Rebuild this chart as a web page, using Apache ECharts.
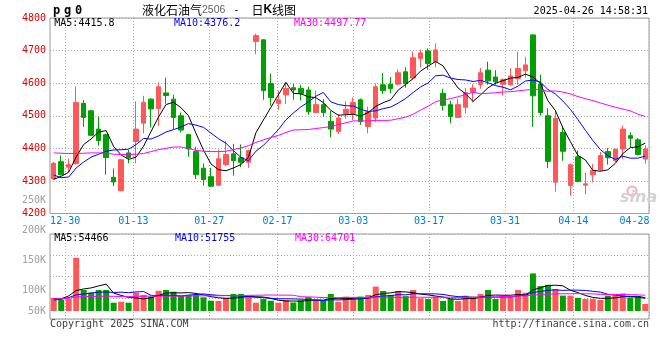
<!DOCTYPE html>
<html><head><meta charset="utf-8">
<script src="https://cdn.jsdelivr.net/npm/echarts@6/dist/echarts.min.js"></script>
<style>html,body{margin:0;padding:0;background:#fff}#c{width:660px;height:360px}</style>
</head><body><div id="c"></div>
<script>
const dates = ['2024-12-26','2024-12-27','2024-12-30','2024-12-31','2025-01-02','2025-01-03','2025-01-06','2025-01-07','2025-01-08','2025-01-09',
'2025-01-10','2025-01-13','2025-01-14','2025-01-15','2025-01-16','2025-01-17','2025-01-20','2025-01-21','2025-01-22','2025-01-23',
'2025-01-24','2025-01-27','2025-02-05','2025-02-06','2025-02-07','2025-02-10','2025-02-11','2025-02-12','2025-02-13','2025-02-14',
'2025-02-17','2025-02-18','2025-02-19','2025-02-20','2025-02-21','2025-02-24','2025-02-25','2025-02-26','2025-02-27','2025-02-28',
'2025-03-03','2025-03-04','2025-03-05','2025-03-06','2025-03-07','2025-03-10','2025-03-11','2025-03-12','2025-03-13','2025-03-14',
'2025-03-17','2025-03-18','2025-03-19','2025-03-20','2025-03-21','2025-03-24','2025-03-25','2025-03-26','2025-03-27','2025-03-28',
'2025-03-31','2025-04-01','2025-04-02','2025-04-03','2025-04-07','2025-04-08','2025-04-09','2025-04-10','2025-04-11','2025-04-14',
'2025-04-15','2025-04-16','2025-04-17','2025-04-18','2025-04-21','2025-04-22','2025-04-23','2025-04-24','2025-04-25','2025-04-28'];

const opens = [4306,4359,4342,4353,4538,4515,4459,4442,4311,4270,
4386,4421,4477,4551,4522,4570,4551,4500,4442,4390,
4339,4313,4287,4350,4383,4371,4357,4728,4733,4599,
4538,4564,4586,4584,4579,4510,4534,4483,4452,4507,
4507,4549,4467,4493,4595,4597,4597,4635,4616,4676,
4699,4666,4569,4534,4495,4526,4573,4596,4640,4619,
4597,4595,4614,4638,4748,4597,4500,4296,4449,4286,
4374,4287,4319,4334,4390,4362,4398,4439,4426,4367];
const closes = [4354,4319,4350,4541,4495,4440,4424,4372,4297,4365,
4372,4459,4541,4521,4589,4562,4495,4456,4398,4319,
4304,4284,4368,4381,4362,4357,4393,4746,4577,4556,
4549,4584,4579,4568,4512,4534,4510,4459,4493,4520,
4541,4482,4512,4589,4577,4584,4632,4599,4678,4693,
4660,4702,4532,4498,4534,4571,4585,4632,4607,4604,
4611,4622,4645,4656,4561,4510,4360,4492,4391,4350,
4298,4291,4332,4378,4371,4397,4459,4431,4381,4398];
const lows = [4304,4317,4327,4350,4466,4438,4408,4319,4284,4268,
4354,4354,4446,4464,4469,4537,4459,4449,4374,4306,
4286,4282,4285,4345,4316,4342,4340,4689,4549,4531,
4518,4536,4549,4547,4503,4508,4497,4434,4444,4491,
4487,4472,4446,4481,4567,4569,4593,4586,4612,4648,
4641,4649,4516,4477,4493,4507,4541,4583,4595,4595,
4562,4593,4595,4617,4466,4500,4339,4267,4362,4255,
4296,4260,4296,4330,4350,4358,4367,4403,4378,4353];
const highs = [4358,4378,4369,4590,4548,4518,4497,4445,4338,4368,
4395,4544,4561,4554,4602,4617,4564,4510,4445,4405,
4354,4340,4396,4423,4414,4412,4395,4752,4735,4630,
4577,4599,4598,4595,4589,4577,4551,4515,4505,4544,
4556,4553,4528,4599,4631,4619,4642,4649,4697,4703,
4707,4722,4583,4546,4552,4585,4597,4646,4666,4640,
4615,4646,4697,4681,4750,4626,4523,4515,4469,4353,
4393,4326,4352,4389,4401,4399,4469,4449,4432,4409];

const ma5 = [4305,4314,4327,4374,4411.8,4429,4450,4454.4,4405.6,4379.6,
4366,4373,4406.8,4451.6,4496.4,4534.4,4541.6,4524.6,4500,4446,
4394.4,4352.2,4334.6,4331.2,4339.8,4350.4,4372.2,4447.8,4487,4525.8,
4564.2,4602.4,4569,4567.2,4558.4,4555.4,4540.6,4516.6,4501.6,4503.2,
4504.6,4499,4509.6,4528.8,4540.2,4548.8,4578.8,4596.2,4614,4637.2,
4652.4,4666.4,4653,4617,4585.2,4567.4,4544,4564,4585.8,4599.8,
4607.8,4615.2,4617.8,4627.6,4619,4598.8,4546.4,4515.8,4462.8,4420.6,
4378.2,4364.4,4332.4,4329.8,4334,4353.8,4383.8,4402.2,4404.6,4415.8];
const ma10 = [4318,4310,4312,4340,4358,4373,4382,4391,4395,4395.7,
4397.5,4411.5,4430.6,4428.6,4438,4450.2,4457.3,4465.7,4475.8,4471.2,
4464.4,4446.9,4429.6,4415.6,4392.9,4372.4,4362.2,4391.2,4409.1,4432.8,
4457.3,4487.3,4508.4,4527.1,4542.1,4559.8,4571.5,4542.8,4534.4,4530.8,
4530,4519.8,4513.1,4515.2,4521.7,4526.7,4538.9,4552.9,4571.4,4588.7,
4600.6,4622.6,4624.6,4615.5,4611.2,4609.9,4605.2,4608.5,4601.4,4592.5,
4587.6,4579.6,4590.9,4606.7,4609.4,4603.3,4580.8,4566.8,4545.2,4519.8,
4488.5,4455.4,4424.1,4396.3,4377.3,4366,4375.9,4369.8,4369.8,4376.2];
const ma30 = [4386,4385,4384,4384,4385,4386,4386,4385,4382,4381,
4381,4382,4384,4390,4396,4400,4404,4404,4400,4394,
4391,4390,4390,4391,4396,4401,4408,4418,4426,4433.2,
4439.7,4448.6,4456.2,4457.1,4457.7,4460.8,4463.7,4466.6,4473.1,4478.3,
4483.9,4484.7,4483.7,4486,4485.6,4486.3,4490.9,4495.6,4505,4517.4,
4529.3,4543.2,4548.7,4552.6,4558.3,4565.5,4571.9,4568.1,4569.1,4570.7,
4572.7,4574,4576.2,4579.1,4580.8,4580,4575,4576.1,4572.7,4567,
4558.9,4552.5,4546.5,4539.5,4532.6,4526.4,4520.6,4515,4505.1,4497.77];

const volumes = [54000,45000,49000,218000,86000,75000,86000,86000,34000,38000,
34000,75000,66000,59000,83000,86000,79000,63000,66000,66000,
56000,42000,41000,54000,70000,70000,63000,34000,49000,42000,
34000,45000,35000,44000,57000,45000,41000,70000,38000,59000,
49000,59000,66000,100000,82000,66000,82000,61000,86000,52000,
49000,59000,41000,49000,41000,63000,59000,70000,86000,49000,
59000,59000,86000,75000,154000,102000,107000,90000,63000,63000,
54000,49000,49000,45000,63000,63000,72000,54000,59000,29000];
const volMa5 = [50000,50000,62000,84000,90400,94600,102800,110200,73400,63800,
55600,53400,49400,54400,63400,73800,74600,74000,75400,72000,
66000,58600,54200,51800,52600,55400,59600,58200,57200,51600,
44400,40800,41000,40000,43000,45200,44400,51400,50200,50600,
51400,55000,54200,66600,71200,74600,79200,78200,75400,69400,
66000,61400,57400,50000,47800,50600,50600,56400,63800,65400,
64600,64600,67800,65600,86600,95200,104800,105600,103200,85000,
75400,63800,55600,52000,52000,53800,58400,59400,60200,54466];
const volMa10 = [45000,48000,55000,66000,70000,74000,77000,78000,76000,77100,
75100,78100,79800,63900,63600,64700,64000,61700,64900,67700,
69900,66600,64100,63600,62300,60700,59100,56200,54500,52100,
49900,50200,49600,48600,47300,44800,42600,46200,45100,46800,
48300,49700,52800,58400,60900,63000,67100,66200,71000,70300,
70300,70300,67800,62700,58600,58300,56000,56900,56900,56600,
57600,57600,62100,64700,76000,79900,84700,86700,84400,85800,
85300,84300,80600,77600,68500,64600,61100,57500,57100,51755];
const volMa30 = [50000,50500,51500,58000,59000,59500,60000,60500,60000,59500,
59500,60000,60500,61000,61000,60500,60500,61000,61500,62000,
62000,62500,62500,63000,63000,63500,64000,64500,65000,65600,
65000,65000,64500,58700,57700,56700,55200,54700,54800,55500,
56000,55500,55500,56900,56800,56200,56300,56200,56900,56400,
56200,56700,56700,56600,55600,55400,55200,56400,57700,57900,
58700,59200,60900,61900,65200,67100,69300,69900,70800,70900,
71100,70700,70200,68300,67700,67600,67300,67000,66100,64701];

const xTickDates = ['2024-12-30','2025-01-13','2025-01-27','2025-02-17','2025-03-03','2025-03-17','2025-03-31','2025-04-14','2025-04-28'];
const priceMin = 4200, priceMax = 4800, priceStep = 100;
const volLabelMin = 50000, volLabelMax = 250000, volLabelStep = 50000;
const priceMaLabels = ['MA5:4415.8', 'MA10:4376.2', 'MA30:4497.77'];
const volMaLabels = ['MA5:54466', 'MA10:51755', 'MA30:64701'];
const titleParts = ['液化石油气', '2506', ' - ', '日', 'K', '线图'];
const codeText = ['p', 'g', '0'];
const timeText = '2025-04-26 14:58:31';
const footLeft = 'Copyright 2025 SINA.COM';
const footRight = 'http://finance.sina.com.cn';

const UP = '#ff5858', DOWN = '#00a000';
const MONO = 'DejaVu Sans Mono';
const GRIDC = '#999', DOTC = '#aaa';
const tickSet = new Set(xTickDates);
const isTick = (i, v) => tickSet.has(v);
const maColors = ['#000000', '#0000ff', '#ff00ff'];

const candles = dates.map((d, i) => [opens[i], closes[i], lows[i], highs[i]]);
const volData = volumes.map((v, i) => ({ value: v, itemStyle: { color: closes[i] >= opens[i] ? UP : DOWN } }));

const chart = echarts.init(document.getElementById('c'), null, { renderer: 'canvas' });

const dotted = { color: DOTC, type: [1, 2], width: 1 };

const option = {
  animation: false,
  backgroundColor: '#ffffff',
  grid: [
    { left: 50, top: 18, width: 599, height: 195.5, show: true, borderColor: GRIDC, borderWidth: 1, outerBoundsMode: 'none', containLabel: false },
    { left: 50, top: 234, width: 599, height: 85, show: true, borderColor: GRIDC, borderWidth: 1, outerBoundsMode: 'none', containLabel: false },
    { left: 50, top: 200.8, width: 599, height: 119.2, show: false, outerBoundsMode: 'none', containLabel: false }
  ],
  xAxis: [
    { type: 'category', gridIndex: 0, data: dates, boundaryGap: true, position: 'top', show: false },
    { type: 'category', gridIndex: 0, data: dates, boundaryGap: false, position: 'bottom',
      axisLine: { show: false }, axisTick: { show: false },
      axisLabel: {
        interval: isTick, color: '#0080d0', fontFamily: MONO, fontSize: 10, margin: 3,
        formatter: (v, idx) => idx === dates.length - 1 ? '{e|' + v.slice(5) + '}' : v.slice(5),
        rich: { e: { color: '#0080d0', fontFamily: MONO, fontSize: 10, padding: [0, 29, 0, 0] } }
      },
      splitLine: { show: true, interval: isTick, lineStyle: dotted } },
    { type: 'category', gridIndex: 1, data: dates, boundaryGap: true, position: 'top', show: false },
    { type: 'category', gridIndex: 1, data: dates, boundaryGap: false, position: 'bottom',
      axisLine: { show: false }, axisTick: { show: false }, axisLabel: { show: false },
      splitLine: { show: true, interval: isTick, lineStyle: dotted } },
    { type: 'value', gridIndex: 2, show: false }
  ],
  yAxis: [
    { type: 'value', gridIndex: 0, min: priceMin, max: priceMax, interval: priceStep, position: 'left',
      axisLine: { show: false }, axisTick: { show: false },
      axisLabel: { color: '#e00000', fontFamily: MONO, fontSize: 10, margin: 4, padding: [0, 0, 4, 0], formatter: v => String(v) },
      splitLine: { show: true, lineStyle: dotted } },
    { type: 'value', gridIndex: 1, min: -32800, max: 315600, show: false },
    { type: 'value', gridIndex: 1, min: 0, max: 4, interval: 1, position: 'right',
      axisLine: { show: false }, axisTick: { show: false }, axisLabel: { show: false },
      splitLine: { show: true, lineStyle: dotted } },
    { type: 'value', gridIndex: 2, min: volLabelMin, max: volLabelMax, interval: volLabelStep, position: 'left',
      axisLine: { show: false }, axisTick: { show: false }, splitLine: { show: false },
      axisLabel: {
        color: '#a0a0a0', fontFamily: MONO, fontSize: 10, margin: 4,
        formatter: v => v === volLabelMin ? '{lift|' + (v / 1000) + 'K}' : (v / 1000) + 'K',
        rich: { lift: { color: '#a0a0a0', fontFamily: MONO, fontSize: 10, padding: [0, 0, 17, 0] } }
      } }
  ],
  series: [
    { type: 'candlestick', xAxisIndex: 0, yAxisIndex: 0, data: candles, barWidth: 5,
      itemStyle: { color: UP, color0: DOWN, borderColor: UP, borderColor0: DOWN, borderWidth: 1 } },
    { type: 'line', xAxisIndex: 0, yAxisIndex: 0, data: ma5, symbol: 'none', lineStyle: { color: maColors[0], width: 1 } },
    { type: 'line', xAxisIndex: 0, yAxisIndex: 0, data: ma10, symbol: 'none', lineStyle: { color: maColors[1], width: 1 } },
    { type: 'line', xAxisIndex: 0, yAxisIndex: 0, data: ma30, symbol: 'none', lineStyle: { color: maColors[2], width: 1 } },
    { type: 'bar', xAxisIndex: 2, yAxisIndex: 1, data: volData, barWidth: 6 },
    { type: 'line', xAxisIndex: 2, yAxisIndex: 1, data: volMa5, symbol: 'none', lineStyle: { color: maColors[0], width: 1 } },
    { type: 'line', xAxisIndex: 2, yAxisIndex: 1, data: volMa10, symbol: 'none', lineStyle: { color: maColors[1], width: 1 } },
    { type: 'line', xAxisIndex: 2, yAxisIndex: 1, data: volMa30, symbol: 'none', lineStyle: { color: maColors[2], width: 1 } }
  ],
  graphic: [
    { type: 'text', x: 51, y: 11, z: 10, style: {
        text: codeText.map(c => '{p|' + c + '}').join(''), verticalAlign: 'middle', align: 'left',
        rich: { p: { fontFamily: MONO, fontWeight: 'bold', fontSize: 12, fill: '#000', padding: [0, 1.9, 0, 1.9] } } } },
    { type: 'text', x: 142, y: 10, z: 10, style: {
        text: '{c|' + titleParts[0] + '}{n|' + titleParts[1] + '}{m|' + titleParts[2] + '}{c|' + titleParts[3] + '}{k|' + titleParts[4] + '}{c|' + titleParts[5] + '}',
        verticalAlign: 'middle', align: 'left',
        rich: {
          c: { fontFamily: 'Noto Sans CJK SC', fontSize: 12, fill: '#000' },
          n: { fontFamily: 'Liberation Sans', fontSize: 10.5, fill: '#666' },
          m: { fontFamily: MONO, fontSize: 10, fill: '#000', padding: [0, 6, 0, 2] },
          k: { fontFamily: 'Liberation Sans', fontWeight: 'bold', fontSize: 12, fill: '#000' }
        } } },
    { type: 'text', x: 648, y: 11, z: 10, style: { text: timeText, fontFamily: MONO, fontSize: 10, fill: '#000', align: 'right', verticalAlign: 'middle' } },
    { type: 'text', x: 54.3, y: 23.7, z: 10, style: { text: priceMaLabels[0], fontFamily: MONO, fontSize: 10, fill: maColors[0], verticalAlign: 'middle' } },
    { type: 'text', x: 174, y: 23.7, z: 10, style: { text: priceMaLabels[1], fontFamily: MONO, fontSize: 10, fill: maColors[1], verticalAlign: 'middle' } },
    { type: 'text', x: 294, y: 23.7, z: 10, style: { text: priceMaLabels[2], fontFamily: MONO, fontSize: 10, fill: maColors[2], verticalAlign: 'middle' } },
    { type: 'text', x: 54.3, y: 238.7, z: 10, style: { text: volMaLabels[0], fontFamily: MONO, fontSize: 10, fill: maColors[0], verticalAlign: 'middle' } },
    { type: 'text', x: 175, y: 238.7, z: 10, style: { text: volMaLabels[1], fontFamily: MONO, fontSize: 10, fill: maColors[1], verticalAlign: 'middle' } },
    { type: 'text', x: 295, y: 238.7, z: 10, style: { text: volMaLabels[2], fontFamily: MONO, fontSize: 10, fill: maColors[2], verticalAlign: 'middle' } },
    { type: 'text', x: 50, y: 324, z: 10, style: { text: footLeft, fontFamily: MONO, fontSize: 10, fill: '#404040', verticalAlign: 'middle' } },
    { type: 'text', x: 649, y: 324, z: 10, style: { text: footRight, fontFamily: MONO, fontSize: 10, fill: '#404040', align: 'right', verticalAlign: 'middle' } },
    { type: 'circle', z: 1, shape: { cx: 632, cy: 191, r: 4.5 }, style: { fill: 'none', stroke: '#f2b0b0', lineWidth: 2 } },
    { type: 'text', x: 620, y: 206, z: 1, style: { text: 'sina', fontFamily: 'DejaVu Sans', fontStyle: 'italic', fontWeight: 'bold', fontSize: 16, fill: '#d2d2d2', verticalAlign: 'bottom' } }
  ]
};
chart.setOption(option);
</script>
</body></html>
